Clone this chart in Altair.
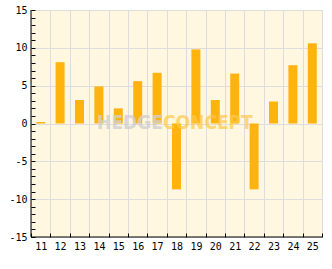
import altair as alt
import pandas as pd

categories = [str(i) for i in range(11, 26)]
values = [0.2, 8.1, 3.1, 4.9, 2.0, 5.6, 6.7, -8.7, 9.8, 3.1, 6.6, -8.7, 2.9, 7.7, 10.6]
y_ticks = list(range(-15, 16))

W, H = 291, 227
df = pd.DataFrame({"cat": categories, "val": values})

FONT = "DejaVu Sans Mono"

bars = alt.Chart(df).mark_bar(size=9, color="#FFB30F").encode(
    x=alt.X("cat:N", sort=categories, title=None,
            scale=alt.Scale(paddingInner=0, paddingOuter=0),
            axis=alt.Axis(tickBand="extent", labelAngle=0, grid=True, gridColor="#DDDDDD",
                          domain=False, offset=-4, tickSize=4, tickColor="black",
                          labelPadding=4, labelFont=FONT, labelFontSize=10,
                          labelColor="black")),
    y=alt.Y("val:Q", title=None, scale=alt.Scale(domain=[-15, 15], nice=False),
            axis=alt.Axis(values=y_ticks, domain=False, offset=-4, tickSize=4,
                          tickColor="black",
                          gridColor={"condition": {"test": "datum.value % 5 === 0", "value": "#DDDDDD"},
                                     "value": "transparent"},
                          labelExpr="datum.value % 5 === 0 ? '' + datum.value : ''",
                          labelPadding=4, labelFont=FONT, labelFontSize=10,
                          labelColor="black")),
)

one = pd.DataFrame({"a": [0]})
wm_font = "DejaVu Sans Condensed"
wm1 = alt.Chart(one).mark_text(text="HEDGE", font=wm_font, fontWeight="bold", fontSize=19,
                               align="right", baseline="middle", color="#D0D0D0", opacity=0.8).encode(
    x=alt.value(132), y=alt.value(113))
wm2 = alt.Chart(one).mark_text(text="CONCEPT", font=wm_font, fontWeight="bold", fontSize=19,
                               align="left", baseline="middle", color="#FFC94A", opacity=0.7).encode(
    x=alt.value(132), y=alt.value(113))

left_line = alt.Chart(one).mark_rule(color="black", strokeWidth=1).encode(
    x=alt.value(0), y=alt.value(0), y2=alt.value(H))
bottom_line = alt.Chart(one).mark_rule(color="black", strokeWidth=1).encode(
    x=alt.value(0), x2=alt.value(W), y=alt.value(H))

chart = alt.layer(bars, wm1, wm2, left_line, bottom_line).properties(
    width=W, height=H,
    autosize=alt.AutoSizeParams(type="none"),
    padding={"left": 31, "top": 10, "right": 10, "bottom": 32},
    background="white",
).configure_view(fill="#FFF7DF", stroke="#DDDDDD")

chart.save("out.html", embed_options={"renderer": "svg", "actions": False})
